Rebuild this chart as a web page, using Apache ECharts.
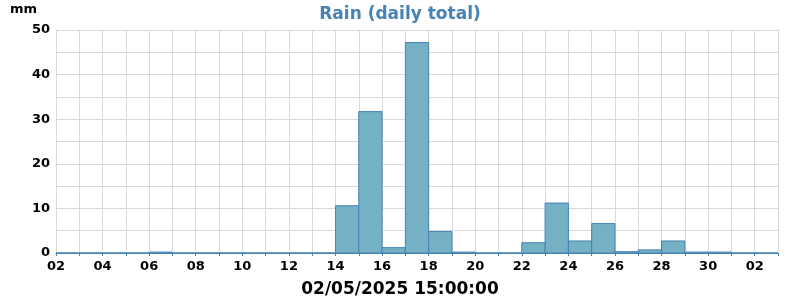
<!DOCTYPE html>
<html><head><meta charset="utf-8">
<script src="https://cdn.jsdelivr.net/npm/echarts@6/dist/echarts.min.js"></script>
<style>html,body{margin:0;padding:0;background:#fff}#c{width:800px;height:300px}</style>
</head><body><div id="c"></div>
<script>
// Days from 02 Apr 2025 (index 0) to 02 May 2025 (index 30)
const dayLabels = ['02','03','04','05','06','07','08','09','10','11','12','13','14','15','16','17','18','19','20','21','22','23','24','25','26','27','28','29','30','01','02','03'];
const rainValues = [0,0,0,0,0.2,0,0,0,0,0,0,0,10.6,31.7,1.2,47.2,4.8,0.2,0,0,2.3,11.2,2.7,6.6,0.3,0.7,2.7,0.2,0.2,0,0];
const title = 'Rain (daily total)';
const unit = 'mm';
const xName = '02/05/2025 15:00:00';

const data = rainValues.map((v, i) => [i, v]);
const chart = echarts.init(document.getElementById('c'), null, {renderer: 'canvas'});
const font = 'DejaVu Sans';
chart.setOption({
  animation: false,
  title: {text: title, left: 'center', top: 1, textStyle: {color: '#4682b4', fontFamily: font, fontWeight: 'bold', fontSize: 17}},
  grid: {left: 56, right: 22, top: 30, bottom: 47, containLabel: false, outerBoundsMode: 'none'},
  graphic: [
    {type: 'text', left: 'center', top: 281, style: {text: xName, fill: '#000', font: 'bold 17px "DejaVu Sans"'}},
    {type: 'text', left: 10, top: 3, style: {text: unit, fill: '#000', font: 'bold 13px "DejaVu Sans"'}}
  ],
  xAxis: {
    type: 'value', min: 0, max: 31, interval: 1,
    axisLine: {show: true, lineStyle: {color: '#4682b4', width: 1}},
    axisTick: {show: true, length: 3, lineStyle: {color: '#4682b4'}},
    axisLabel: {color: '#000', fontFamily: font, fontWeight: 'bold', fontSize: 13, margin: 7,
      formatter: v => (Math.round(v) % 2 === 0 ? dayLabels[Math.round(v)] : '')},
    splitLine: {show: true, lineStyle: {color: '#d9d9d9', width: 1}}
  },
  yAxis: {
    type: 'value', min: 0, max: 50, interval: 5,
    axisLine: {show: false}, axisTick: {show: false},
    axisLabel: {color: '#000', fontFamily: font, fontWeight: 'bold', fontSize: 13, margin: 6,
      formatter: v => (v % 10 === 0 ? String(v) : '')},
    splitLine: {show: true, lineStyle: {color: '#d9d9d9', width: 1}}
  },
  series: [{
    type: 'custom',
    data: data,
    encode: {x: 0, y: 1},
    renderItem: (params, api) => {
      const x = api.value(0), v = api.value(1);
      const p0 = api.coord([x, v]);
      const p1 = api.coord([x + 1, 0]);
      return {type: 'rect', shape: {x: p0[0], y: p0[1], width: p1[0] - p0[0], height: p1[1] - p0[1]},
        style: {fill: '#74b1c4', stroke: '#4682b4', lineWidth: 1}};
    }
  }]
});
</script></body></html>
